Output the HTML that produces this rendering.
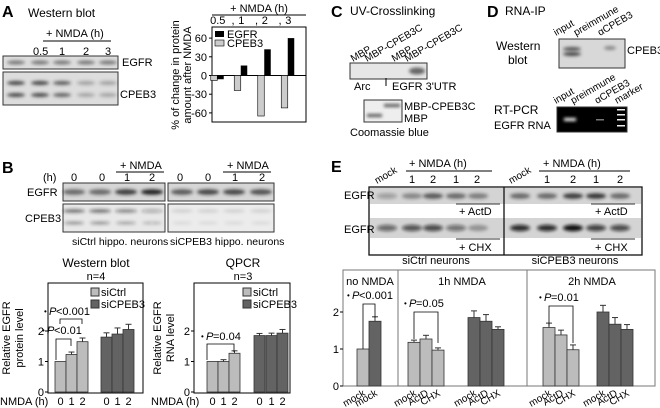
<!DOCTYPE html>
<html><head><meta charset="utf-8"><style>
html,body{margin:0;padding:0;background:#fff;}
svg{display:block;font-family:"Liberation Sans",sans-serif;}
</style></head><body>
<svg id="fig" width="660" height="408" viewBox="0 0 660 408" xmlns="http://www.w3.org/2000/svg">
<defs>
<filter id="bl" x="-50%" y="-100%" width="200%" height="300%"><feGaussianBlur stdDeviation="1.6"/></filter>
</defs>
<g font-size="11" fill="#000">
<!-- Panel A -->
<text x="2" y="17" font-size="16" font-weight="bold">A</text>
<text x="28" y="17" font-size="12">Western blot</text>
<text x="46" y="37">+ NMDA (h)</text>
<line x1="43" y1="41" x2="111" y2="41" stroke="#000"/>
<text x="33" y="55">0.5</text><text x="59" y="55">1</text><text x="83" y="55">2</text><text x="105" y="55">3</text>
<rect x="3" y="56" width="115" height="13" fill="#ddd" stroke="#333"/>
<rect x="3" y="72" width="115" height="33" fill="#ddd" stroke="#333"/>
<text x="122" y="66">EGFR</text>
<text x="120" y="98">CPEB3</text>
<g id="bandsA"></g>
<g id="chartA"></g>
<text transform="translate(179,75) rotate(-90)" text-anchor="middle">% of change in protein</text>
<text transform="translate(191,75) rotate(-90)" text-anchor="middle">amount after NMDA</text>

<!-- Panel B -->
<text x="2" y="173" font-size="16" font-weight="bold">B</text>
<text x="120" y="169">+ NMDA</text>
<line x1="116" y1="172" x2="164" y2="172" stroke="#000"/>
<text x="227" y="169">+ NMDA</text>
<line x1="223" y1="172" x2="271" y2="172" stroke="#000"/>
<text x="43" y="181">(h)</text>
<text x="71" y="181">0</text><text x="99" y="181">0</text><text x="124" y="181">1</text><text x="149" y="181">2</text>
<text x="177" y="181">0</text><text x="205" y="181">0</text><text x="232" y="181">1</text><text x="259" y="181">2</text>
<rect x="63" y="183" width="102" height="18" fill="#d6d6d6" stroke="#333"/>
<rect x="168" y="183" width="106" height="18" fill="#d6d6d6" stroke="#333"/>
<rect x="63" y="204" width="102" height="28" fill="#e8e8e8" stroke="#333"/>
<rect x="168" y="204" width="106" height="28" fill="#ececec" stroke="#333"/>
<text x="27" y="196">EGFR</text>
<text x="25" y="222">CPEB3</text>
<text x="72" y="245" font-size="10.5">siCtrl hippo. neurons</text>
<text x="170" y="245" font-size="10.5">siCPEB3 hippo. neurons</text>
<g id="bandsB"></g>
<text x="96" y="267" text-anchor="middle" font-size="12">Western blot</text>
<text x="96" y="280" text-anchor="middle">n=4</text>
<text x="243" y="267" text-anchor="middle" font-size="12">QPCR</text>
<text x="243" y="280" text-anchor="middle">n=3</text>
<g id="chartB1"></g>
<g id="chartB2"></g>
<text transform="translate(10,338) rotate(-90)" text-anchor="middle">Relative EGFR</text>
<text transform="translate(23,338) rotate(-90)" text-anchor="middle">protein level</text>
<text transform="translate(161,338) rotate(-90)" text-anchor="middle">Relative EGFR</text>
<text transform="translate(174,338) rotate(-90)" text-anchor="middle">RNA level</text>
<text x="0" y="405">NMDA (h)</text>
<text x="151" y="405">NMDA (h)</text>

<!-- Panel C -->
<text x="331" y="17" font-size="16" font-weight="bold">C</text>
<text x="350" y="15" font-size="12">UV-Crosslinking</text>
<text transform="translate(353,62) rotate(-30)" font-size="10">MBP</text>
<text transform="translate(367,62) rotate(-30)" font-size="10">MBP-CPEB3C</text>
<text transform="translate(394,62) rotate(-30)" font-size="10">MBP</text>
<text transform="translate(407,62) rotate(-30)" font-size="10">MBP-CPEB3C</text>
<rect x="350" y="63" width="77" height="16" fill="#e6e6e6" stroke="#333"/>
<ellipse cx="417" cy="71" rx="8" ry="3.5" fill="#666" filter="url(#bl)"/>
<text x="354" y="90">Arc</text>
<line x1="386" y1="78" x2="386" y2="86" stroke="#000"/>
<text x="392" y="90">EGFR 3'UTR</text>
<rect x="364" y="100" width="38" height="22" fill="#eee" stroke="#333"/>
<rect x="367" y="114" width="15" height="3" fill="#555" filter="url(#bl)"/>
<rect x="384" y="104" width="16" height="3" fill="#555" filter="url(#bl)"/>
<text x="404" y="110">MBP-CPEB3C</text>
<text x="404" y="122">MBP</text>
<text x="350" y="136">Coomassie blue</text>

<!-- Panel D -->
<text x="487" y="17" font-size="16" font-weight="bold">D</text>
<text x="505" y="15" font-size="12">RNA-IP</text>
<text transform="translate(556,36) rotate(-30)" font-size="10">input</text>
<text transform="translate(576,36) rotate(-30)" font-size="10">preimmune</text>
<text transform="translate(600,36) rotate(-30)" font-size="10">αCPEB3</text>
<text x="496" y="50" font-size="12">Western</text>
<text x="508" y="64" font-size="12">blot</text>
<rect x="559" y="39" width="66" height="29" fill="#d8d8d8" stroke="#333"/>
<ellipse cx="572" cy="49" rx="9" ry="2" fill="#555" filter="url(#bl)"/>
<ellipse cx="572" cy="54" rx="9" ry="2" fill="#444" filter="url(#bl)"/>
<ellipse cx="610" cy="48" rx="6" ry="2" fill="#888" filter="url(#bl)"/>
<text x="627" y="54">CPEB3</text>
<text transform="translate(556,104) rotate(-30)" font-size="10">input</text>
<text transform="translate(573,104) rotate(-30)" font-size="10">preimmune</text>
<text transform="translate(597,104) rotate(-30)" font-size="10">αCPEB3</text>
<text transform="translate(617,104) rotate(-30)" font-size="10">marker</text>
<text x="494" y="114" font-size="12">RT-PCR</text>
<text x="494" y="129">EGFR RNA</text>
<rect x="557" y="107" width="70" height="25" fill="#000" stroke="#333"/>
<rect x="564" y="118" width="12" height="3" fill="#fff" filter="url(#bl)"/>
<rect x="596" y="119" width="8" height="1.5" fill="#777"/>
<rect x="617" y="109" width="8" height="1.5" fill="#eee"/>
<rect x="617" y="114" width="8" height="1.5" fill="#eee"/>
<rect x="617" y="119" width="8" height="1.5" fill="#eee"/>
<rect x="617" y="125" width="8" height="1.5" fill="#eee"/>

<!-- Panel E -->
<text x="331" y="172" font-size="16" font-weight="bold">E</text>
<text transform="translate(377,184) rotate(-30)" font-size="10">mock</text>
<text transform="translate(511,184) rotate(-30)" font-size="10">mock</text>
<text x="409" y="167">+ NMDA (h)</text>
<line x1="406" y1="171" x2="492" y2="171" stroke="#000"/>
<text x="543" y="167">+ NMDA (h)</text>
<line x1="539" y1="171" x2="630" y2="171" stroke="#000"/>
<text x="409" y="183">1</text><text x="430" y="183">2</text><text x="453" y="183">1</text><text x="474" y="183">2</text>
<text x="544" y="183">1</text><text x="570" y="183">2</text><text x="593" y="183">1</text><text x="617" y="183">2</text>
<rect x="369" y="187" width="273" height="68" fill="#fff" stroke="#111" stroke-width="1.3"/>
<rect x="370" y="188" width="271" height="16" fill="#d4d4d4"/>
<rect x="370" y="218" width="271" height="20" fill="#d4d4d4"/>
<line x1="504" y1="187" x2="504" y2="255" stroke="#111" stroke-width="1.3"/>
<line x1="456" y1="204" x2="500" y2="204" stroke="#333"/><text x="459" y="215">+ ActD</text>
<line x1="591" y1="204" x2="635" y2="204" stroke="#333"/><text x="595" y="215">+ ActD</text>
<line x1="456" y1="239" x2="500" y2="239" stroke="#333"/><text x="459" y="251">+ CHX</text>
<line x1="591" y1="239" x2="635" y2="239" stroke="#333"/><text x="595" y="251">+ CHX</text>
<text x="344" y="199">EGFR</text>
<text x="344" y="233">EGFR</text>
<g id="bandsE"></g>
<text x="436" y="264" text-anchor="middle">siCtrl neurons</text>
<text x="575" y="264" text-anchor="middle">siCPEB3 neurons</text>
<g id="chartE"></g>
</g>
</svg>
<script>
// ---- Chart A data ----
const catsA = ["0.5","1","2","3"];
const egfrA = [-6, 16, 42, 60];
const cpeb3A = [-8, -24, -65, -52];
const ticksA = [60, 30, 0, -30, -60];
// ---- Chart B data ----
const catsB = ["0","1","2"];
const wbCtrl = [1.0, 1.23, 1.65];
const wbCtrlErr = [0, 0.08, 0.12];
const wbSi = [1.8, 1.9, 2.05];
const wbSiErr = [0.14, 0.2, 0.17];
const qCtrl = [1.0, 1.0, 1.27];
const qCtrlErr = [0, 0.06, 0.08];
const qSi = [1.85, 1.85, 1.93];
const qSiErr = [0.07, 0.08, 0.12];
const ticksB = [0, 1, 2];
// ---- Chart E data ----
const catsE = ["mock","ActD","CHX"];
const noCtrl = [1.0], noSi = [1.75], noCtrlErr=[0], noSiErr=[0.12];
const h1Ctrl = [1.18, 1.27, 0.97], h1CtrlErr = [0.06, 0.1, 0.06];
const h1Si = [1.85, 1.75, 1.53], h1SiErr = [0.18, 0.18, 0.07];
const h2Ctrl = [1.58, 1.38, 0.98], h2CtrlErr = [0.12, 0.13, 0.13];
const h2Si = [2.0, 1.67, 1.53], h2SiErr = [0.18, 0.18, 0.13];
const ticksE = [0, 1, 2];

const NS="http://www.w3.org/2000/svg";
function mk(parent, tag, attrs, txt){
  const e=document.createElementNS(NS,tag);
  for(const k in attrs) e.setAttribute(k, attrs[k]);
  if(txt!==undefined) e.textContent=txt;
  parent.appendChild(e); return e;
}
const LIGHT="#bcbcbc", DARK="#636363";

// Chart A
(function(){
  const g=document.getElementById('chartA');
  const x0=212,x1=306,y0=27,y1=122;
  const yA=v=>75.5 - v*(18.7/30);
  mk(g,'rect',{x:x0,y:y0,width:x1-x0,height:y1-y0,fill:'none',stroke:'#000'});
  ticksA.forEach(t=>{
    mk(g,'line',{x1:x0-3,x2:x0,y1:yA(t),y2:yA(t),stroke:'#000'});
    const tx=mk(g,'text',{x:x0-5,y:yA(t)+4,'text-anchor':'end'},String(t));
    
    
  });
  mk(g,'line',{x1:x0,x2:x1,y1:yA(0),y2:yA(0),stroke:'#000'});
  const gw=(x1-x0)/catsA.length;
  catsA.forEach((c,i)=>{
    const cx=x0+gw*i+gw/2;
    const r1=mk(g,'rect',{x:cx-13,y:Math.min(yA(0),yA(cpeb3A[i])),width:6.5,height:Math.abs(yA(cpeb3A[i])-yA(0)),fill:'#ccc',stroke:'#000','stroke-width':0.6});
    
    
    const r2=mk(g,'rect',{x:cx-6.5,y:Math.min(yA(0),yA(egfrA[i])),width:6.5,height:Math.abs(yA(egfrA[i])-yA(0)),fill:'#000'});
    
    
    const lt=mk(g,'text',{x:cx-6,y:24,'text-anchor':'middle'},c);
    
    
    if(i<catsA.length-1) mk(g,'text',{x:x0+gw*(i+1)-4,y:24},',');
  });
  mk(g,'text',{x:259,y:12,'text-anchor':'middle'},'+ NMDA (h)');
  mk(g,'line',{x1:x0,x2:x1,y1:15,y2:15,stroke:'#000'});
  mk(g,'rect',{x:215,y:31,width:9,height:6,fill:'#000'});
  mk(g,'text',{x:227,y:38},'EGFR');
  mk(g,'rect',{x:215,y:40,width:9,height:6,fill:'#ccc',stroke:'#000','stroke-width':0.6});
  mk(g,'text',{x:227,y:47},'CPEB3');
})();

// Bands
(function(){
  const gA=document.getElementById('bandsA');
  [16,40,62,86,108].forEach((x,i)=>{
    mk(gA,'ellipse',{cx:x,cy:62.5,rx:9,ry:2,fill:'#777',filter:'url(#bl)'});
    const d=[0.9,0.9,0.75,0.35,0.35][i];
    mk(gA,'ellipse',{cx:x,cy:83,rx:9,ry:2,fill:'#333','fill-opacity':d,filter:'url(#bl)'});
    mk(gA,'ellipse',{cx:x,cy:95,rx:9,ry:2,fill:'#333','fill-opacity':d*0.95,filter:'url(#bl)'});
  });
  const gB=document.getElementById('bandsB');
  [[74,.6],[100,.6],[126,.85],[152,1],[182,.7],[208,.8],[234,.8],[261,.75]].forEach(([x,d])=>{
    mk(gB,'ellipse',{cx:x,cy:192,rx:11,ry:2.8,fill:'#222','fill-opacity':d,filter:'url(#bl)'});
  });
  [[74,.6],[100,.6],[126,.5],[152,.3],[182,.12],[208,.12],[234,.12],[261,.12]].forEach(([x,d])=>{
    mk(gB,'ellipse',{cx:x,cy:211,rx:11,ry:1.8,fill:'#222','fill-opacity':d,filter:'url(#bl)'});
    mk(gB,'ellipse',{cx:x,cy:223,rx:10,ry:1.4,fill:'#222','fill-opacity':d*0.8,filter:'url(#bl)'});
  });
  const gE=document.getElementById('bandsE');
  const lanes=[387,412,433,456,478,520,547,573,596,620];
  const r1=[.3,.45,.7,.6,.5,.6,.6,.85,.9,.6];
  const r2=[.55,.65,.7,.5,.3,.85,.85,1,.75,.7];
  lanes.forEach((x,i)=>{
    mk(gE,'ellipse',{cx:x,cy:196,rx:10,ry:2.8,fill:'#222','fill-opacity':r1[i],filter:'url(#bl)'});
    mk(gE,'ellipse',{cx:x,cy:228,rx:10,ry:3.2,fill:'#111','fill-opacity':r2[i],filter:'url(#bl)'});
  });
})();

function drawBars(g, xs, vals, errs, w, yf, fill, name){
  vals.forEach((v,i)=>{
    const r=mk(g,'rect',{x:xs[i],y:yf(v),width:w,height:yf(0)-yf(v),fill:fill,stroke:'#333','stroke-width':0.8});
    
    
    if(errs[i]>0){
      const cx=xs[i]+w/2;
      mk(g,'line',{x1:cx,x2:cx,y1:yf(v),y2:yf(v+errs[i]),stroke:'#333'});
      mk(g,'line',{x1:cx-3,x2:cx+3,y1:yf(v+errs[i]),y2:yf(v+errs[i]),stroke:'#333'});
    }
  });
}
function bracket(g,xa,xb,ytop,ya,yb){
  mk(g,'path',{d:`M${xa},${ya} V${ytop} H${xb} V${yb}`,fill:'none',stroke:'#000','stroke-width':0.8});
}
function ptext(g,x,y,rest){
  mk(g,'text',{x:x,y:y-1,'font-size':8},'•');
  mk(g,'text',{x:x+5,y:y,'font-style':'italic'},'P');
  mk(g,'text',{x:x+12,y:y},rest);
}

// Chart B
function chartB(id,x0,x1,ctrl,ce,si,se,xc,xs,legX){
  const g=document.getElementById(id);
  const yB=v=>392-v*30.5;
  mk(g,'rect',{x:x0,y:283,width:x1-x0,height:110,fill:'none',stroke:'#000'});
  ticksB.forEach(t=>{
    mk(g,'line',{x1:x0-3,x2:x0,y1:yB(t),y2:yB(t),stroke:'#000'});
    mk(g,'text',{x:x0-4,y:yB(t)+4,'text-anchor':'end'},String(t));
  });
  drawBars(g,xc,ctrl,ce,11,yB,LIGHT,'bar-sictrl');
  drawBars(g,xs,si,se,11,yB,DARK,'bar-sicpeb3');
  catsB.forEach((c,i)=>{
    mk(g,'text',{x:xc[i]+5.5,y:405,'text-anchor':'middle'},c);
    mk(g,'text',{x:xs[i]+5.5,y:405,'text-anchor':'middle'},c);
  });
  mk(g,'rect',{x:legX,y:288,width:8,height:8,fill:LIGHT,stroke:'#333'});
  mk(g,'text',{x:legX+10,y:296},'siCtrl');
  mk(g,'rect',{x:legX,y:300,width:8,height:8,fill:DARK,stroke:'#333'});
  mk(g,'text',{x:legX+10,y:308},'siCPEB3');
  return {g,yB};
}
(function(){
  const a=chartB('chartB1',48,143,wbCtrl,wbCtrlErr,wbSi,wbSiErr,[55,66,77],[101,112,123],91);
  ptext(a.g,44,315,'<0.001');
  bracket(a.g,60,82,319,324,324);
  ptext(a.g,42,334,'<0.01');
  bracket(a.g,56,71,339,360,346);
  const b=chartB('chartB2',194,290,qCtrl,qCtrlErr,qSi,qSiErr,[207,218,229],[254,266,277],243);
  ptext(b.g,201,340,'=0.04');
  bracket(b.g,207,234,344,360,352);
})();

// Chart E
(function(){
  const g=document.getElementById('chartE');
  const yE=v=>386-v*37;
  const x0=343,x1=655;
  mk(g,'rect',{x:x0,y:270,width:x1-x0,height:116,fill:'none',stroke:'#777'});
  mk(g,'line',{x1:398,x2:398,y1:270,y2:386,stroke:'#777'});
  mk(g,'line',{x1:527,x2:527,y1:270,y2:386,stroke:'#777'});
  ticksE.forEach(t=>{
    mk(g,'line',{x1:x0-3,x2:x0,y1:yE(t),y2:yE(t),stroke:'#000'});
    mk(g,'text',{x:x0-4,y:yE(t)+4,'text-anchor':'end'},String(t));
  });
  drawBars(g,[357],noCtrl,noCtrlErr,12,yE,LIGHT,'bar-no-nmda-sictrl');
  drawBars(g,[369],noSi,noSiErr,12,yE,DARK,'bar-no-nmda-sicpeb3');
  const g1c=[408,420,432],g1s=[468,480,492],g2c=[543,555,567],g2s=[597,609,621];
  drawBars(g,g1c,h1Ctrl,h1CtrlErr,12,yE,LIGHT,'bar-1h-sictrl');
  drawBars(g,g1s,h1Si,h1SiErr,12,yE,DARK,'bar-1h-sicpeb3');
  drawBars(g,g2c,h2Ctrl,h2CtrlErr,12,yE,LIGHT,'bar-2h-sictrl');
  drawBars(g,g2s,h2Si,h2SiErr,12,yE,DARK,'bar-2h-sicpeb3');
  const lbl=(x,t)=>mk(g,'text',{transform:`translate(${x+9},395) rotate(-30)`,'text-anchor':'end','font-size':10},t);
  lbl(357,'mock');lbl(369,'mock');
  [g1c,g1s,g2c,g2s].forEach(arr=>arr.forEach((x,i)=>lbl(x,catsE[i])));
  mk(g,'text',{x:370,y:285,'text-anchor':'middle'},'no NMDA');
  mk(g,'text',{x:462,y:285,'text-anchor':'middle'},'1h NMDA');
  mk(g,'text',{x:592,y:285,'text-anchor':'middle'},'2h NMDA');
  ptext(g,347,299,'<0.001');
  bracket(g,363,375,304,349,318);
  ptext(g,404,307,'=0.05');
  bracket(g,414,438,312,339,343);
  ptext(g,539,301,'=0.01');
  bracket(g,549,573,306,326,343);
})();
</script>
</body></html>
